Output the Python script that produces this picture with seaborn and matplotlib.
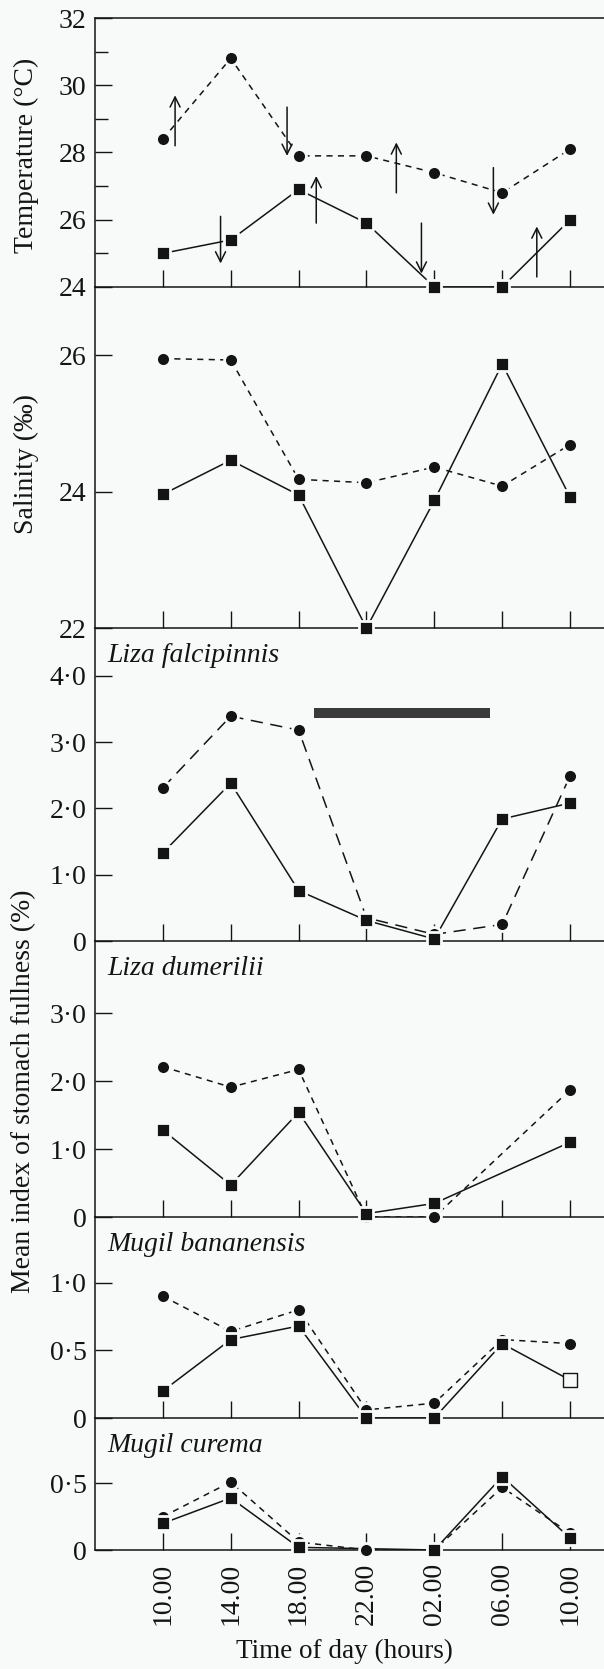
import pandas as pd
import matplotlib
matplotlib.use("Agg")
import matplotlib.pyplot as plt
import seaborn as sns

# sampling times (x index 0..6)
hours = ["10.00", "14.00", "18.00", "22.00", "02.00", "06.00", "10.00"]
t = list(range(len(hours)))
nan = float("nan")

# temperature (deg C): circles dashed, squares solid
temp_circ = [28.4, 30.8, 27.9, 27.9, 27.4, 26.8, 28.1]
temp_sq = [25.0, 25.4, 26.9, 25.9, 24.0, 24.0, 26.0]
# tide arrows: x position, arrow tail, arrow head
arrow_x = [0.18, 0.85, 1.83, 2.26, 3.44, 3.81, 4.87, 5.51]
arrow_from = [28.2, 26.1, 29.35, 25.9, 26.8, 25.9, 27.55, 24.3]
arrow_to = [29.7, 24.7, 27.9, 27.3, 28.3, 24.4, 26.15, 25.8]

# salinity (per mille)
sal_circ = [25.95, 25.93, 24.18, 24.13, 24.36, 24.08, 24.69]
sal_sq = [23.96, 24.46, 23.95, 22.0, 23.87, 25.87, 23.92]

# stomach fullness per species
lf_circ = [2.31, 3.39, 3.18, 0.35, 0.10, 0.25, 2.49]
lf_sq = [1.33, 2.38, 0.76, 0.31, 0.03, 1.84, 2.08]
dark_x = [2.22, 4.82]
dark_y = [3.36, 3.51]

ld_circ = [2.21, 1.91, 2.17, 0.0, 0.0, nan, 1.87]
ld_sq = [1.28, 0.47, 1.54, 0.05, 0.20, nan, 1.10]

mb_circ = [0.90, 0.64, 0.80, 0.06, 0.11, 0.58, 0.55]
mb_sq = [0.20, 0.58, 0.68, 0.0, 0.0, 0.55, 0.28]
mb_sq_open = [False, False, False, False, False, False, True]

mc_circ = [0.25, 0.51, 0.06, 0.0, 0.0, 0.47, 0.125]
mc_sq = [0.20, 0.39, 0.02, nan, 0.0, 0.55, 0.09]

species = ["Liza falcipinnis", "Liza dumerilii", "Mugil bananensis", "Mugil curema"]

ink = "#141414"
bg = "#f8f9f9"

sns.set_style("ticks")
plt.rcParams["font.family"] = ["Liberation Serif", "DejaVu Serif"]

W, H = 604, 1669
fig = plt.figure(figsize=(W / 100, H / 100), dpi=100, facecolor=bg)

# panel edges in pixels (top, bottom)
edges = [(18, 287), (287, 628), (628, 941), (941, 1217), (1217, 1418), (1418, 1550)]
left_px = 95

short = (0, (4, 3.5))
long_ = (0, (8, 5))

panels = [
    dict(c=temp_circ, s=temp_sq, dash=short, ylim=(24, 32), ticks=[24, 26, 28, 30, 32],
         labels=["24", "26", "28", "30", "32"], minor=[25, 27, 29, 31]),
    dict(c=sal_circ, s=sal_sq, dash=short, ylim=(22, 27.0), ticks=[22, 24, 26],
         labels=["22", "24", "26"], minor=[]),
    dict(c=lf_circ, s=lf_sq, dash=long_, ylim=(0, 4.72), ticks=[0, 1, 2, 3, 4],
         labels=["0", "1·0", "2·0", "3·0", "4·0"], minor=[]),
    dict(c=ld_circ, s=ld_sq, dash=short, ylim=(0, 4.06), ticks=[0, 1, 2, 3],
         labels=["0", "1·0", "2·0", "3·0"], minor=[]),
    dict(c=mb_circ, s=mb_sq, dash=short, ylim=(0, 1.486), ticks=[0, 0.5, 1.0],
         labels=["0", "0·5", "1·0"], minor=[], open=mb_sq_open),
    dict(c=mc_circ, s=mc_sq, dash=short, ylim=(0, 0.99), ticks=[0, 0.5],
         labels=["0", "0·5"], minor=[]),
]

axes = []
for i, (p, (top, bot)) in enumerate(zip(panels, edges)):
    ax = fig.add_axes([left_px / W, 1 - bot / H, 1 - left_px / W, (bot - top) / H])
    ax.set_facecolor("none")
    axes.append(ax)

    no_open = [False] * len(t)
    for vals, mk, ls, size, opn in [(p["c"], "o", p["dash"], 100, no_open),
                                    (p["s"], "s", "-", 90, p.get("open", no_open))]:
        d = pd.DataFrame({"t": t, "v": vals, "open": opn}).dropna()
        sns.lineplot(data=d, x="t", y="v", ax=ax, color=ink, lw=1.1, linestyle=ls,
                     errorbar=None)
        filled = d[~d["open"]]
        hollow = d[d["open"]]
        sns.scatterplot(data=filled, x="t", y="v", ax=ax, marker=mk, s=size, color=ink,
                        edgecolor=bg, linewidth=2, clip_on=False, zorder=3, legend=False)
        if len(hollow):
            sns.scatterplot(data=hollow, x="t", y="v", ax=ax, marker=mk, s=size,
                            color=bg, edgecolor=ink, linewidth=1, clip_on=False,
                            zorder=3, legend=False)

    ax.set_xlim(-1.0, 6.5)
    ax.set_ylim(*p["ylim"])
    ax.set_xticks(t)
    ax.set_xticklabels(hours, rotation=90)
    ax.set_yticks(p["ticks"], p["labels"])
    if p["minor"]:
        ax.set_yticks(p["minor"], minor=True)
    ax.tick_params(axis="x", direction="in", length=12, width=1, colors=ink,
                   labelbottom=(i == len(panels) - 1), labelsize=20, pad=9)
    ax.tick_params(axis="y", which="major", direction="in", length=12, width=1,
                   colors=ink, labelsize=20, pad=6)
    ax.tick_params(axis="y", which="minor", direction="in", length=9, width=1, colors=ink)
    ax.spines["right"].set_visible(False)
    ax.spines["top"].set_visible(i == 0)
    for sp in ax.spines.values():
        sp.set_color(ink)
        sp.set_linewidth(1.1)
    ax.set_xlabel("")
    ax.set_ylabel("")

    if i >= 2:
        ax.annotate(species[i - 2], xy=(0, 1), xycoords="axes fraction",
                    xytext=(9, -20), textcoords="offset points", va="center",
                    ha="left", style="italic", fontsize=20, color=ink)

# tide arrows on temperature panel
for x, y0, y1 in zip(arrow_x, arrow_from, arrow_to):
    axes[0].annotate("", xy=(x, y1), xytext=(x, y0),
                     arrowprops=dict(arrowstyle="->", lw=1.1, color=ink,
                                     mutation_scale=18, shrinkA=0, shrinkB=0))

# dark period bar on Liza falcipinnis panel
axes[2].fill_between(dark_x, dark_y[0], dark_y[1], color="#3a3a3a", lw=0)

# labels
fig.text(26 / W, 1 - 155 / H, "Temperature (°C)", rotation=90, ha="center",
         va="center", fontsize=20, color=ink)
fig.text(26 / W, 1 - 464 / H, "Salinity (‰)", rotation=90, ha="center",
         va="center", fontsize=20, color=ink)
fig.text(24 / W, 1 - 1091 / H, "Mean index of stomach fullness (%)", rotation=90,
         ha="center", va="center", fontsize=20, color=ink)
fig.text(344 / W, 1 - 1651 / H, "Time of day (hours)", ha="center", va="center",
         fontsize=19.5, color=ink)

fig.savefig("out.png", dpi=100, facecolor=bg)
